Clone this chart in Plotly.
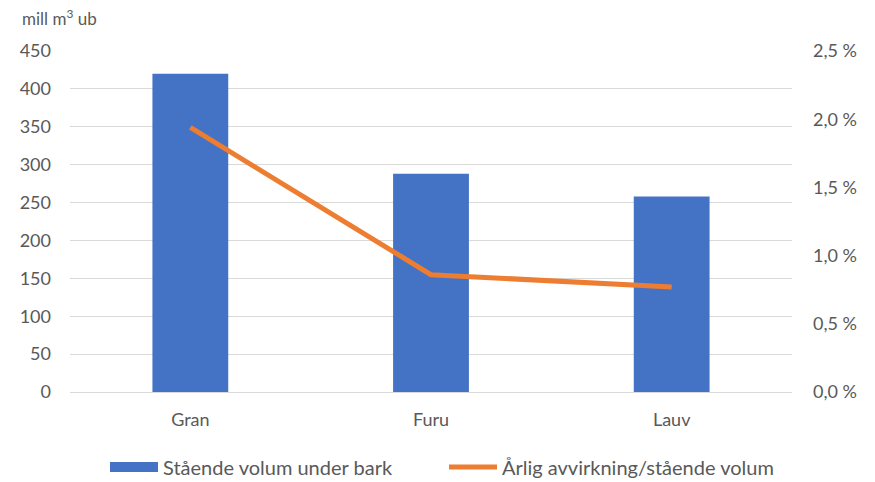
import plotly.graph_objects as go

categories = ["Gran", "Furu", "Lauv"]
staende_volum = [420, 288, 258]          # mill m3 ub
avvirkning_andel = [1.94, 0.86, 0.77]    # prosent

left_ticks = [0, 50, 100, 150, 200, 250, 300, 350, 400, 450]
right_ticks = [0.0, 0.5, 1.0, 1.5, 2.0, 2.5]
right_labels = [f"{v:.1f} %".replace(".", ",") for v in right_ticks]

font_family = "Lato, 'Open Sans', sans-serif"
tick_color = "#595959"
bar_color = "#4472C4"
line_color = "#ED7D31"

W, H = 875, 482
ML, MR, MT, MB = 70, 83, 51, 90
plot_w, plot_h = W - ML - MR, H - MT - MB

fig = go.Figure()
fig.add_trace(go.Bar(
    x=categories, y=staende_volum, name="Stående volum under bark",
    marker=dict(color=bar_color, line=dict(width=0)),
    yaxis="y", showlegend=False, legendgroup="vol",
))
# wide rectangular legend key for the bars
fig.add_trace(go.Scatter(
    x=[None], y=[None], name="Stående volum under bark",
    mode="lines", line=dict(color=bar_color, width=13),
    yaxis="y", legendgroup="vol",
))
fig.add_trace(go.Scatter(
    x=categories, y=avvirkning_andel, name="Årlig avvirkning/stående volum",
    mode="lines", line=dict(color=line_color, width=5),
    yaxis="y2",
))

fig.update_layout(
    width=W, height=H,
    margin=dict(l=ML, r=MR, t=MT, b=MB, autoexpand=False),
    paper_bgcolor="white", plot_bgcolor="white",
    bargap=0.685,
    font=dict(family=font_family, size=18, color=tick_color),
    xaxis=dict(showline=False, ticks="", showgrid=False, ticklabelstandoff=15,
               tickfont=dict(size=18, color=tick_color)),
    yaxis=dict(range=[0, 450], tickvals=left_ticks, showgrid=True,
               gridcolor="#D9D9D9", gridwidth=1.3, zeroline=True,
               zerolinecolor="#D9D9D9", zerolinewidth=1.3,
               ticks="", ticklabelstandoff=18,
               tickfont=dict(size=18, color=tick_color)),
    yaxis2=dict(range=[0, 2.5], tickvals=right_ticks, ticktext=right_labels,
                overlaying="y", side="right", showgrid=False, zeroline=False,
                ticks="", ticklabelstandoff=20,
                tickfont=dict(size=18, color=tick_color)),
    legend=dict(orientation="h", xref="container", x=105 / W, xanchor="left",
                yref="container", y=1 - 467 / H, yanchor="middle",
                font=dict(size=20, color=tick_color),
                itemwidth=48, entrywidth=276, entrywidthmode="pixels",
                traceorder="normal"),
    annotations=[dict(text="mill m<sup>3</sup> ub",
                      x=(20 - ML) / plot_w, y=1 + (MT - 17) / plot_h,
                      xref="paper", yref="paper", showarrow=False,
                      font=dict(size=17, color=tick_color),
                      xanchor="left", yanchor="middle")],
)

fig.write_html("out.html")
